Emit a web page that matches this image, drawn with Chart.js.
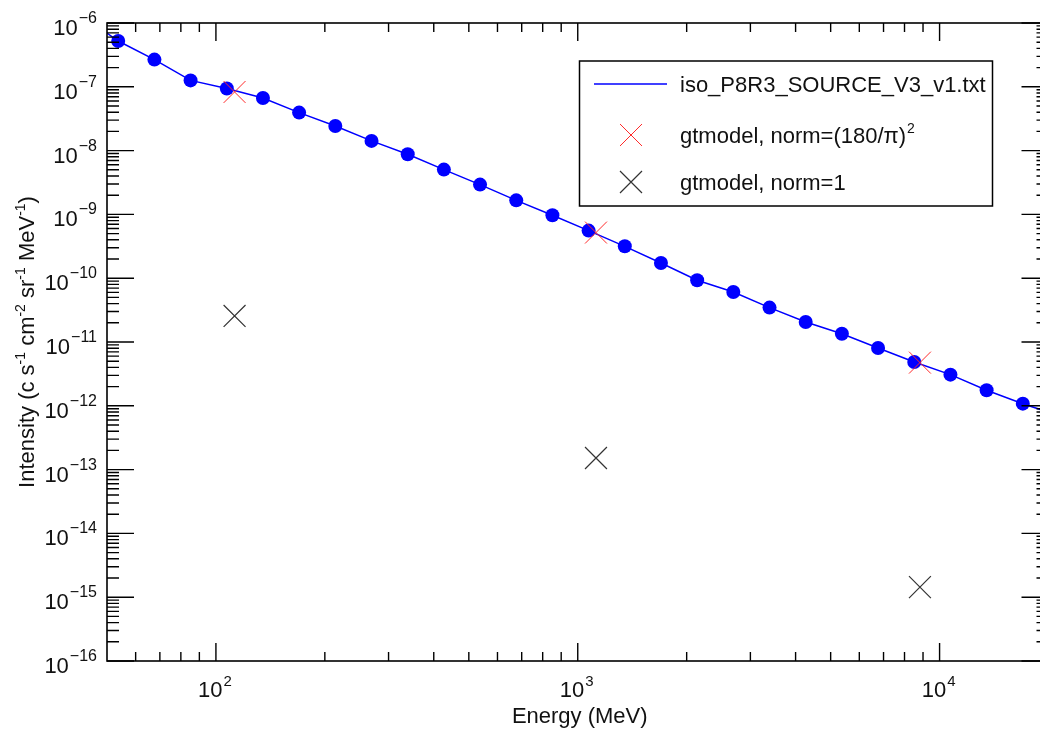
<!DOCTYPE html>
<html>
<head>
<meta charset="utf-8">
<title>Isotropic template spectrum</title>
<script src="https://cdn.jsdelivr.net/npm/chart.js@4.4.0/dist/chart.umd.min.js"></script>
<style>
  html, body { margin: 0; padding: 0; background: #fff; overflow: hidden; }
  #myChart { display: block; }
</style>
</head>
<body>
<!-- canvas is a bit wider than the window: the right frame of the plot falls just outside, as in the original -->
<canvas id="myChart" width="1049" height="731"></canvas>
<script>
// iso template: energy (MeV) and intensity
var energies = [42.66, 53.70, 67.61, 85.11, 107.2, 134.9, 169.8, 213.8, 269.2, 338.9, 426.6, 537.0, 676.1, 851.1,
  1071.5, 1349.0, 1698.2, 2138.0, 2691.5, 3388.4, 4265.8, 5370.3, 6760.8, 8511.4, 10715.2, 13489.6, 16982.4, 21379.6];
var intensity = [1.3e-6, 5.22e-7, 2.67e-7, 1.26e-7, 9.38e-8, 6.67e-8, 3.94e-8, 2.43e-8, 1.42e-8, 8.75e-9, 5.04e-9,
  2.93e-9, 1.66e-9, 9.68e-10, 5.57e-10, 3.16e-10, 1.73e-10, 9.27e-11, 6.08e-11, 3.46e-11, 2.06e-11, 1.35e-11,
  8.05e-12, 4.86e-12, 3.08e-12, 1.75e-12, 1.08e-12, 7.0e-13];

// gtmodel evaluations
var modelEnergies = [112.6, 1123, 8825];
var modelNormDeg = [8.3e-8, 5.19e-10, 4.75e-12];
var modelNormOne = [2.56e-11, 1.52e-13, 1.44e-15];

// axis ranges and tick decades
var xMin = 50, xMax = 20000;
var yMin = 1e-16, yMax = 1e-6;
var xDecades = [2, 3, 4];
var yDecades = [-6, -7, -8, -9, -10, -11, -12, -13, -14, -15, -16];

var labels = ['iso_P8R3_SOURCE_V3_v1.txt', 'gtmodel, norm=(180/\u03c0)^2', 'gtmodel, norm=1'];

var FONT = '"Liberation Sans", Arial, Helvetica, sans-serif';

function toXY(xs, ys) {
  return xs.map(function (x, i) { return { x: x, y: ys[i] }; });
}

// draw "base^sup" text
function richText(ctx, base, sup, x, y, align, size, supSize, raise) {
  ctx.font = size + 'px ' + FONT;
  var wb = ctx.measureText(base).width;
  ctx.font = supSize + 'px ' + FONT;
  var ws = sup ? ctx.measureText(sup).width + 1 : 0;
  var w = wb + ws;
  var x0 = align === 'right' ? x - w : (align === 'center' ? x - w / 2 : x);
  ctx.textAlign = 'left';
  ctx.textBaseline = 'alphabetic';
  ctx.font = size + 'px ' + FONT;
  ctx.fillText(base, x0, y);
  if (sup) {
    ctx.font = supSize + 'px ' + FONT;
    ctx.fillText(sup, x0 + wb + 1, y - raise);
  }
}

// several base/sup runs one after another, centred on x
function richRuns(ctx, runs, x, y, size, supSize, raise) {
  var total = 0;
  runs.forEach(function (r) {
    ctx.font = (r.sup ? supSize : size) + 'px ' + FONT;
    total += ctx.measureText(r.t).width;
  });
  var cx = x - total / 2;
  ctx.textAlign = 'left';
  ctx.textBaseline = 'alphabetic';
  runs.forEach(function (r) {
    ctx.font = (r.sup ? supSize : size) + 'px ' + FONT;
    ctx.fillText(r.t, cx, r.sup ? y - raise : y);
    cx += ctx.measureText(r.t).width;
  });
}

var framePlugin = {
  id: 'frame',
  afterDraw: function (chart) {
    var ctx = chart.ctx;
    var a = chart.chartArea;
    var xs = chart.scales.x, ys = chart.scales.y;
    ctx.save();
    ctx.strokeStyle = '#000';
    ctx.fillStyle = '#000';

    // frame
    ctx.lineWidth = 1.6;
    ctx.strokeRect(a.left, a.top, a.right - a.left, a.bottom - a.top);

    // ticks, pointing inwards on all four sides
    ctx.lineWidth = 1.4;
    ctx.beginPath();
    for (var d = 1; d <= 4; d++) {
      for (var m = 1; m <= 9; m++) {
        var v = m * Math.pow(10, d);
        if (v <= xMin || v >= xMax) continue;
        var px = xs.getPixelForValue(v);
        var len = m === 1 ? 18 : 9;
        ctx.moveTo(px, a.bottom); ctx.lineTo(px, a.bottom - len);
        ctx.moveTo(px, a.top); ctx.lineTo(px, a.top + len);
      }
    }
    for (var e = -16; e <= -6; e++) {
      for (var k = 1; k <= 9; k++) {
        var val = k * Math.pow(10, e);
        if (val < yMin || val > yMax) continue;
        var py = ys.getPixelForValue(val);
        var l = k === 1 ? 27 : 12;
        ctx.moveTo(a.left, py); ctx.lineTo(a.left + l, py);
        ctx.moveTo(a.right, py); ctx.lineTo(a.right - l, py);
      }
    }
    ctx.stroke();

    // tick labels
    ctx.fillStyle = '#111';
    yDecades.forEach(function (e) {
      var py = ys.getPixelForValue(Math.pow(10, e));
      richText(ctx, '10', '\u2212' + Math.abs(e), a.left - 10, py + 12, 'right', 22, 16, 12);
    });
    xDecades.forEach(function (e) {
      var px = xs.getPixelForValue(Math.pow(10, e));
      richText(ctx, '10', String(e), px - 1, 697, 'center', 22, 15, 11);
    });

    // axis titles
    richText(ctx, 'Energy (MeV)', '', (a.left + a.right) / 2 + 2, 723, 'center', 22, 15, 0);
    ctx.save();
    ctx.translate(34, 342);
    ctx.rotate(-Math.PI / 2);
    richRuns(ctx, [
      { t: 'Intensity (c s' }, { t: '-1', sup: true },
      { t: ' cm' }, { t: '-2', sup: true },
      { t: ' sr' }, { t: '-1', sup: true },
      { t: ' MeV' }, { t: '-1', sup: true },
      { t: ')' }
    ], 0, 0, 22, 14, 9);
    ctx.restore();

    // legend box
    var lx = 579.5, ly = 61, lw = 413, lh = 145;
    ctx.lineWidth = 1.5;
    ctx.strokeStyle = '#000';
    ctx.fillStyle = '#fff';
    ctx.fillRect(lx, ly, lw, lh);
    ctx.strokeRect(lx, ly, lw, lh);

    var rows = [84, 135, 182];
    var sets = chart.data.datasets;
    // line sample
    ctx.strokeStyle = sets[0].borderColor;
    ctx.lineWidth = 1.5;
    ctx.beginPath();
    ctx.moveTo(594, rows[0]); ctx.lineTo(667, rows[0]);
    ctx.stroke();
    // cross samples
    [1, 2].forEach(function (i) {
      ctx.strokeStyle = sets[i].borderColor;
      ctx.lineWidth = sets[i].borderWidth;
      ctx.beginPath();
      ctx.moveTo(620, rows[i] - 11); ctx.lineTo(642, rows[i] + 11);
      ctx.moveTo(642, rows[i] - 11); ctx.lineTo(620, rows[i] + 11);
      ctx.stroke();
    });
    ctx.fillStyle = '#111';
    sets.forEach(function (ds, i) {
      var parts = ds.label.split('^');
      richText(ctx, parts[0], parts[1] || '', 680, rows[i] + 8, 'left', 22, 14, 10);
    });

    ctx.restore();
  }
};

var ctx = document.getElementById('myChart').getContext('2d');
var chart = new Chart(ctx, {
  type: 'scatter',
  data: {
    datasets: [{
      label: labels[0],
      data: toXY(energies, intensity),
      showLine: true,
      borderColor: '#0000ff',
      borderWidth: 1.5,
      backgroundColor: '#0000ff',
      pointRadius: 7,
      pointBorderWidth: 0,
      pointBackgroundColor: '#0000ff',
      order: 2
    }, {
      label: labels[1],
      data: toXY(modelEnergies, modelNormDeg),
      showLine: false,
      pointStyle: 'crossRot',
      pointRadius: 15.5,
      borderColor: '#ff2a2a',
      borderWidth: 1,
      order: 1
    }, {
      label: labels[2],
      data: toXY(modelEnergies, modelNormOne),
      showLine: false,
      pointStyle: 'crossRot',
      pointRadius: 15.5,
      borderColor: '#333333',
      borderWidth: 1.2,
      order: 0
    }]
  },
  options: {
    responsive: false,
    animation: false,
    // fixed plot box; no extra room reserved for the big cross markers
    layout: { autoPadding: false, padding: { left: 0, top: 23, right: 0.5, bottom: 0 } },
    plugins: {
      legend: { display: false },
      tooltip: { enabled: false }
    },
    scales: {
      x: {
        type: 'logarithmic',
        min: xMin,
        max: xMax,
        grid: { display: false, drawTicks: false },
        border: { display: false },
        ticks: { display: false },
        afterFit: function (scale) { scale.height = 70; }
      },
      y: {
        type: 'logarithmic',
        min: yMin,
        max: yMax,
        grid: { display: false, drawTicks: false },
        border: { display: false },
        ticks: { display: false },
        afterFit: function (scale) { scale.width = 107; }
      }
    }
  },
  plugins: [framePlugin]
});
</script>
</body>
</html>
